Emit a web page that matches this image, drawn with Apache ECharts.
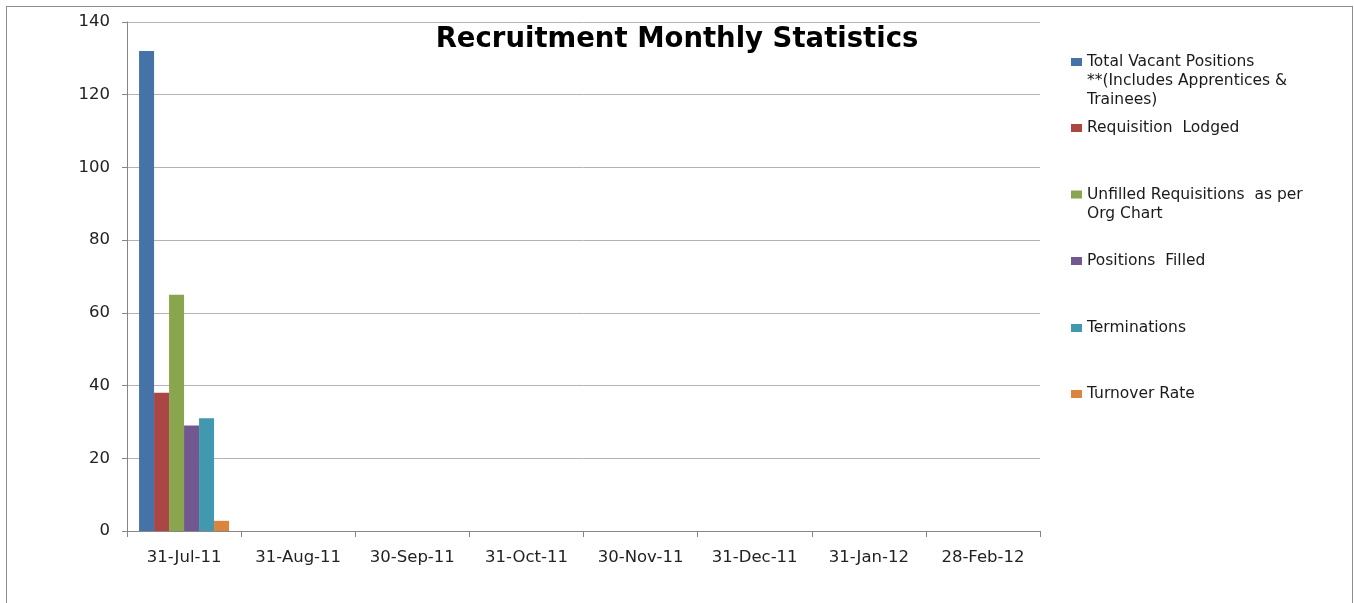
<!DOCTYPE html>
<html>
<head>
<meta charset="utf-8">
<script src="https://cdn.jsdelivr.net/npm/echarts@6/dist/echarts.min.js"></script>
<style>
  html, body { margin: 0; padding: 0; background: #fff; }
  .frame {
    position: absolute; left: 6px; top: 6px; width: 1345px; height: 700px;
    border: 1px solid #8c8c8c;
  }
  #chart { position: absolute; left: 0; top: 0; width: 1354px; height: 603px; }
</style>
</head>
<body>
<div class="frame"></div>
<div id="chart"></div>
<script>
  // 数据
  const categories = ['31-Jul-11', '31-Aug-11', '30-Sep-11', '31-Oct-11', '30-Nov-11', '31-Dec-11', '31-Jan-12', '28-Feb-12'];
  const totalVacant = [132, null, null, null, null, null, null, null];
  const requisitionLodged = [38, null, null, null, null, null, null, null];
  const unfilledRequisitions = [65, null, null, null, null, null, null, null];
  const positionsFilled = [29, null, null, null, null, null, null, null];
  const terminations = [31, null, null, null, null, null, null, null];
  const turnoverRate = [2.8, null, null, null, null, null, null, null];

  const seriesNames = [
    'Total Vacant Positions\n**(Includes Apprentices &\nTrainees)',
    'Requisition  Lodged',
    'Unfilled Requisitions  as per\nOrg Chart',
    'Positions  Filled',
    'Terminations',
    'Turnover Rate',
  ];
  const seriesData = [totalVacant, requisitionLodged, unfilledRequisitions, positionsFilled, terminations, turnoverRate];
  const colors = ['#4572A7', '#AA4643', '#89A54E', '#71588F', '#4198AF', '#DB843D'];

  const LH = 19;
  const iconCenters = [62, 128, 194.5, 261, 328, 394]; // 图例图标中心 y
  const font = 'DejaVu Sans';

  // 每个图例单独一个 legend，前面补空行让图标对齐第一行文字
  const legends = seriesNames.map((name, i) => {
    const n = name.split('\n').length;
    return {
      orient: 'vertical',
      left: 1071,
      top: iconCenters[i] - ((2 * n - 1) * LH) / 2,
      padding: 0,
      itemWidth: 11,
      itemHeight: 8,
      selectedMode: false,
      data: [{ name: name, icon: 'rect' }],
      formatter: (nm) => '\u00a0\n'.repeat(n - 1) + nm,
      textStyle: { fontFamily: font, fontSize: 15.5, color: '#1a1a1a', lineHeight: LH },
    };
  });

  const chart = echarts.init(document.getElementById('chart'));
  const option = {
    animation: false,
    color: colors,
    title: {
      text: 'Recruitment Monthly Statistics',
      left: 'center',
      top: 26,
      padding: 0,
      textStyle: { fontFamily: font, fontSize: 27.5, fontWeight: 'bold', color: '#000' },
    },
    legend: legends,
    grid: { left: 127, right: 314, top: 22, bottom: 72 },
    xAxis: {
      type: 'category',
      data: categories,
      axisLine: { lineStyle: { color: '#868686' } },
      axisTick: { show: true, length: 6, lineStyle: { color: '#868686' } },
      axisLabel: { fontFamily: font, fontSize: 16.5, color: '#222', margin: 18 },
    },
    yAxis: {
      type: 'value',
      min: 0,
      max: 140,
      interval: 20,
      axisLine: { show: true, lineStyle: { color: '#868686' } },
      axisTick: { show: true, length: 5, lineStyle: { color: '#868686' } },
      axisLabel: { fontFamily: font, fontSize: 16.5, color: '#222', margin: 17 },
      splitLine: { lineStyle: { color: '#b3b3b3' } },
    },
    series: seriesNames.map((name, i) => ({
      name: name,
      type: 'bar',
      data: seriesData[i],
      barWidth: 15,
      barGap: 0,
      itemStyle: { color: colors[i] },
    })),
  };
  chart.setOption(option);
</script>
</body>
</html>
